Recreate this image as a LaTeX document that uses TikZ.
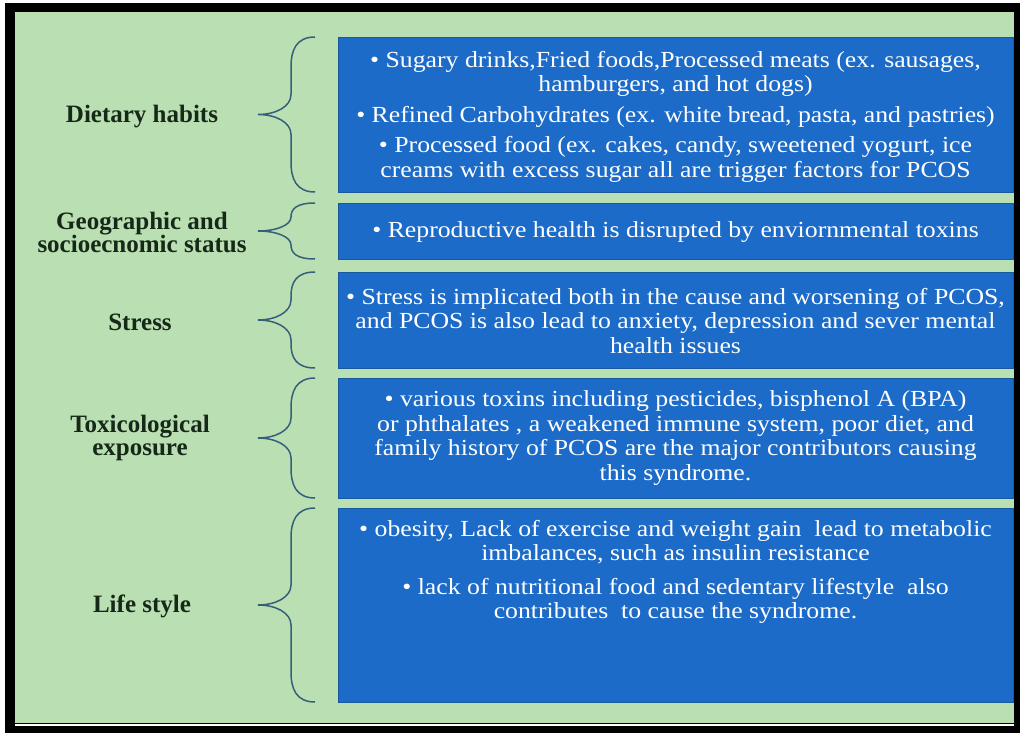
\documentclass[tikz,border=0pt]{standalone}
\usepackage{fontspec}
\setmainfont{Liberation Serif}
\newfontfamily\boxfont[FakeStretch=1.12]{Liberation Serif}
\usetikzlibrary{calc}
\definecolor{bg}{RGB}{186,223,178}
\definecolor{boxblue}{RGB}{28,107,200}
\definecolor{boxedge}{RGB}{24,88,158}
\definecolor{bracec}{RGB}{52,96,122}
\definecolor{labc}{RGB}{22,40,24}
\tikzset{
  infobox/.style={fill=boxblue, draw=boxedge, line width=0.8pt, minimum width=675pt, anchor=north west, inner sep=0pt, outer sep=0pt},
  boxtext/.style={text=white, align=center, font=\boxfont\fontsize{23}{24.5}\selectfont, inner sep=0pt},
  lab/.style={text=labc, align=center, font=\bfseries\fontsize{25}{23}\selectfont, inner sep=0pt},
  bracepath/.style={draw=bracec, line width=1.5pt},
}
\newcommand{\curlybrace}[1]{%
  \draw[bracepath] let \p1=(#1.north west), \p2=(#1.south west),
    \n1={min(30pt,(\y1-\y2)/4)}, \n2={min(20pt,(\y1-\y2)/4)}, \n3={(\y1+\y2)/2} in
    ({\x1-23pt},\y1) .. controls ({\x1-42pt},\y1) and ({\x1-47pt},{\y1-0.45*\n1}) .. ({\x1-47pt},{\y1-\n1})
    -- ({\x1-47pt},{\n3+\n2}) .. controls ({\x1-47pt},{\n3+0.4*\n2}) and ({\x1-62pt},\n3) .. ({\x1-80pt},\n3)
    .. controls ({\x1-62pt},\n3) and ({\x1-47pt},{\n3-0.4*\n2}) .. ({\x1-47pt},{\n3-\n2})
    -- ({\x1-47pt},{\y2+\n1}) .. controls ({\x1-47pt},{\y2+0.45*\n1}) and ({\x1-42pt},\y2) .. ({\x1-23pt},\y2);
}
\begin{document}
\begin{tikzpicture}[x=1pt,y=-1pt]
\useasboundingbox (0,0) rectangle (1020,733);
\fill[white] (0,0) rectangle (1020,733);
\fill[black] (5,3) rectangle (1020,733);
\fill[bg] (15,12) rectangle (1014,723);
\draw[white, line width=2.5pt] (15,725) -- (1014,725);

\node[infobox, minimum height=155pt] (box1) at (338,37) {};
\node[infobox, minimum height=56pt] (box2) at (338,203) {};
\node[infobox, minimum height=96pt] (box3) at (338,272) {};
\node[infobox, minimum height=120pt] (box4) at (338,378) {};
\node[infobox, minimum height=194pt] (box5) at (338,508) {};

\node[boxtext] (txt1) at ($(box1.center)+(0,2)$) {• Sugary drinks,Fried foods,Processed meats (ex. sausages,\\ hamburgers, and hot dogs)\\[6pt] • Refined Carbohydrates (ex. white bread, pasta, and pastries)\\[6pt] • Processed food (ex. cakes, candy, sweetened yogurt, ice\\ creams with excess sugar all are trigger factors for PCOS};
\node[boxtext] (txt2) at ($(box2.center)+(0,1)$) {• Reproductive health is disrupted by enviornmental toxins};
\node[boxtext] (txt3) at ($(box3.center)+(0,1)$) {• Stress is implicated both in the cause and worsening of PCOS,\\ and PCOS is also lead to anxiety, depression and sever mental\\ health issues};
\node[boxtext] (txt4) at ($(box4.center)+(0,0)$) {• various toxins including pesticides, bisphenol A (BPA)\\ or phthalates , a weakened immune system, poor diet, and\\ family history of PCOS are the major contributors causing\\ this syndrome.};
\node[boxtext, anchor=north] (txt5) at ($(box5.north)+(0,12)$) {• obesity, Lack of exercise and weight gain\ \ lead to metabolic\\ imbalances, such as insulin resistance\\[9pt] • lack of nutritional food and sedentary lifestyle\ \ also\\ contributes\ \ to cause the syndrome.};

\node[lab] (lab1) at (142,117) {Dietary habits};
\node[lab] (lab2) at (142,232) {Geographic and\\ socioecnomic status};
\node[lab] (lab3) at (140,322) {Stress};
\node[lab] (lab4) at (140,438) {Toxicological\\ exposure};
\node[lab] (lab5) at (142,606) {Life style};

\curlybrace{box1}
\curlybrace{box2}
\curlybrace{box3}
\curlybrace{box4}
\curlybrace{box5}
\end{tikzpicture}
\end{document}
